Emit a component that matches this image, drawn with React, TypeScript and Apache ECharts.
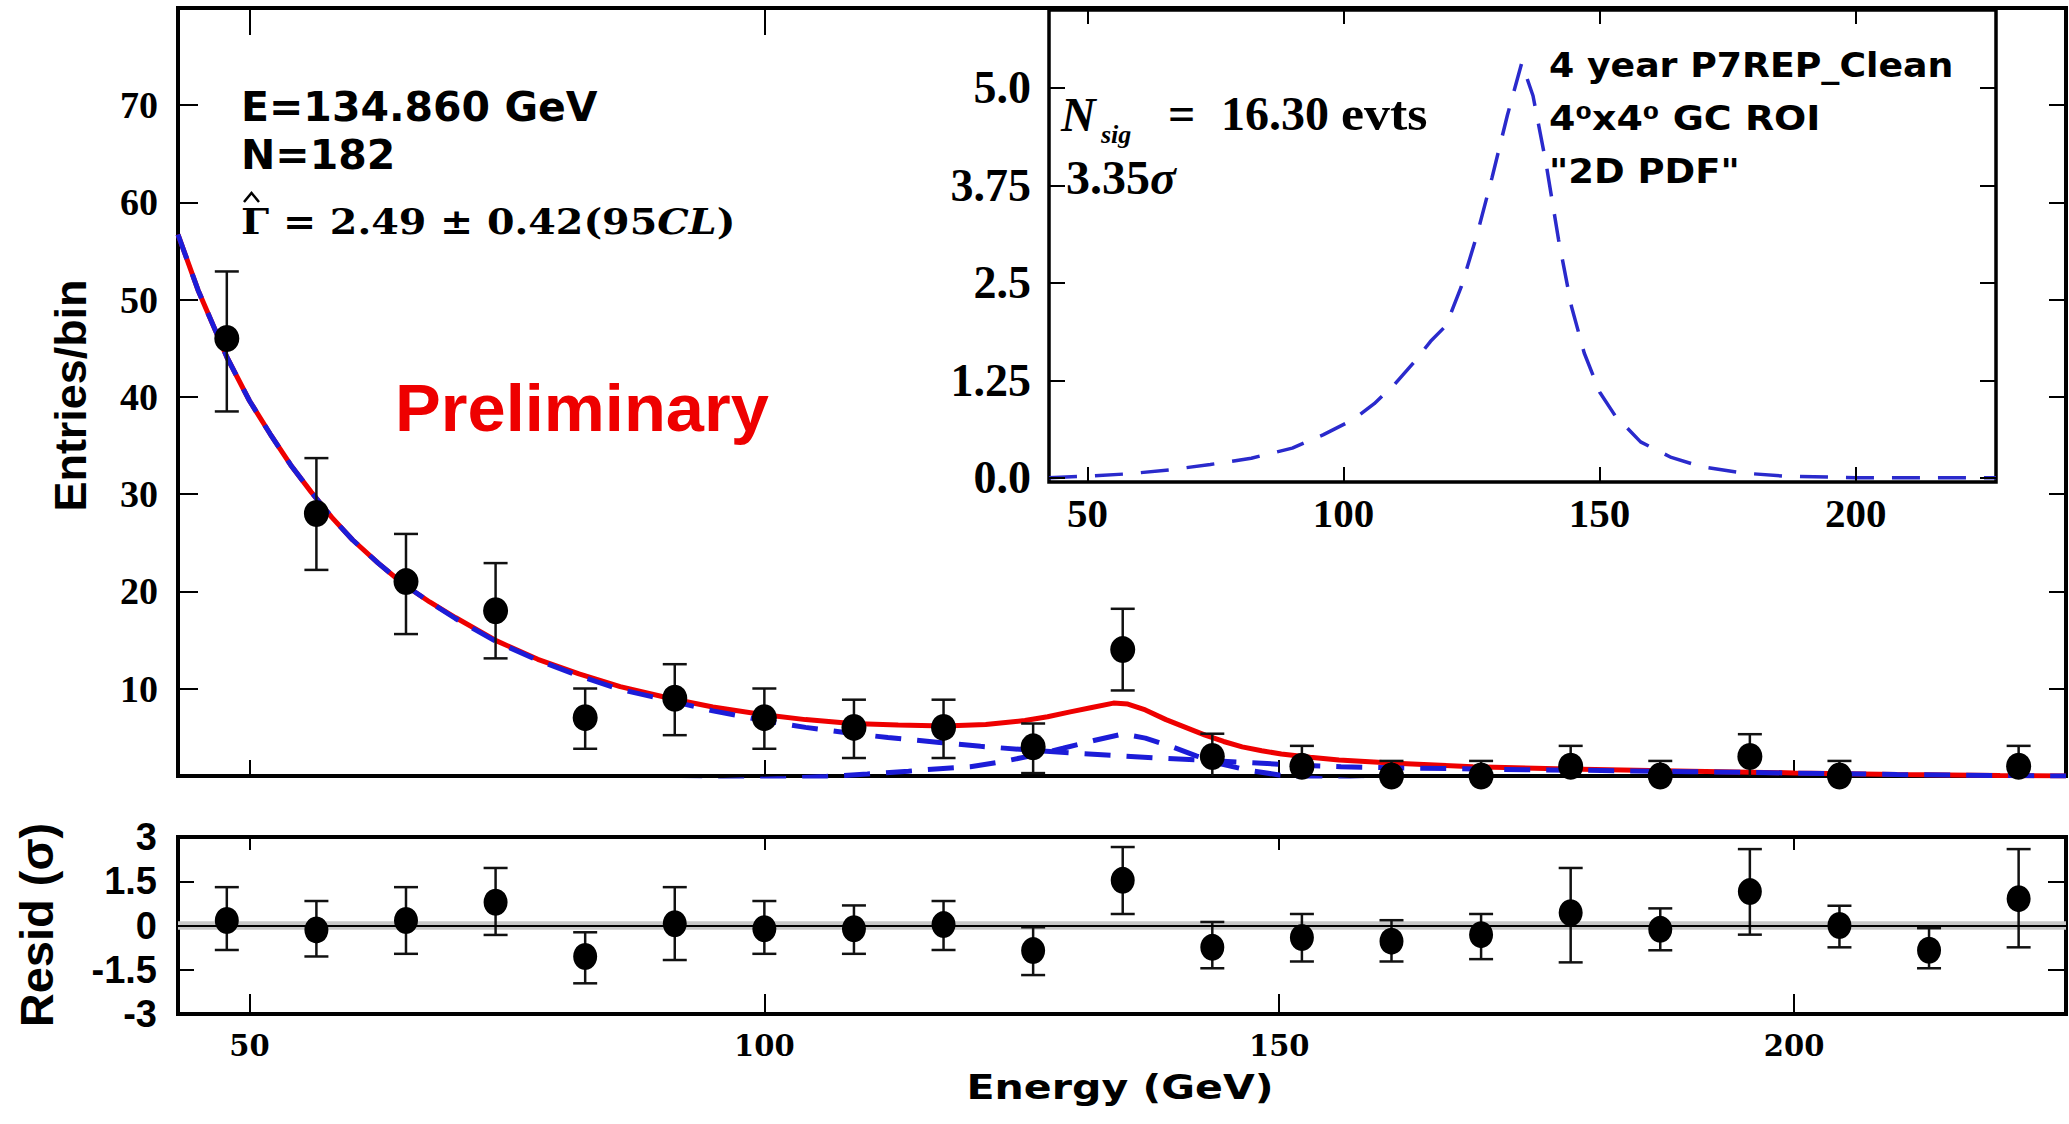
import React, { useEffect, useRef } from "react";
import * as echarts from "echarts";

const W = 2069;
const H = 1124;

// ---- binned data (energy bin centres, counts, error bar ends) ----
const energies = [47.8, 56.5, 65.2, 73.9, 82.6, 91.3, 100.0, 108.7, 117.4, 126.1, 134.8, 143.5, 152.2, 160.9, 169.6, 178.3, 187.0, 195.7, 204.4, 213.1, 221.8];
const counts = [46, 28, 21, 18, 7, 9, 7, 6, 6, 4, 14, 3, 2, 1, 1, 2, 1, 3, 1, 0, 2];
const countLow = [38.5, 22.2, 15.6, 13.1, 3.8, 5.2, 3.8, 2.85, 2.85, 1.3, 9.8, 0.9, 0.4, 0, 0, 0.4, 0, 0.9, 0, 0, 0.4];
const countHigh = [52.9, 33.7, 25.9, 22.9, 10.0, 12.5, 10.0, 8.85, 8.85, 6.4, 18.2, 5.35, 4.1, 2.55, 2.55, 4.1, 2.55, 5.3, 2.55, 0, 4.1];

// ---- residuals (sigma) ----
const resid = [0.17, -0.15, 0.17, 0.79, -1.05, 0.06, -0.11, -0.11, 0.03, -0.85, 1.53, -0.74, -0.41, -0.53, -0.31, 0.43, -0.13, 1.15, 0.0, -0.84, 0.91];
const residLow = [-0.83, -1.05, -0.96, -0.32, -1.96, -1.17, -0.96, -0.96, -0.83, -1.68, 0.39, -1.45, -1.22, -1.22, -1.14, -1.25, -0.84, -0.31, -0.74, -1.45, -0.74];
const residHigh = [1.30, 0.83, 1.30, 1.95, -0.23, 1.30, 0.83, 0.68, 0.83, -0.06, 2.66, 0.12, 0.39, 0.18, 0.39, 1.95, 0.58, 2.59, 0.67, -0.09, 2.59];

// ---- model curves ----
const totalEnergy = [43.06, 45, 47.8, 50, 52, 54, 56, 58, 60, 62.5, 65, 67.5, 70, 74, 78, 82, 86, 91, 95, 100, 104, 108.5, 113, 117.5, 121.5, 125.3, 127.5, 129.7, 131.8, 133.9, 135.3, 137, 139, 140.9, 142.8, 144.6, 146.4, 148.3, 150.2, 153, 155.8, 161.3, 168.8, 178, 190, 200, 210, 220, 226.4];
const totalValue = [56.7, 51.0, 44.1, 39.6, 36.2, 33.0, 30.2, 27.6, 25.3, 22.9, 20.7, 18.9, 17.3, 14.9, 13.0, 11.5, 10.2, 8.95, 8.1, 7.3, 6.8, 6.4, 6.25, 6.15, 6.3, 6.7, 7.1, 7.6, 8.05, 8.5, 8.4, 7.8, 6.8, 6.0, 5.2, 4.55, 4.0, 3.6, 3.26, 2.92, 2.65, 2.3, 1.96, 1.72, 1.5, 1.32, 1.16, 1.06, 1.0];

const bgEnergy = [43.06, 45, 47.8, 50, 52, 54, 56, 58, 60, 62.5, 65, 67.5, 70, 74, 78, 82, 86, 91, 95, 100, 104, 108, 112, 117, 121, 126, 130, 135, 139, 143, 147, 152, 156, 161, 170, 180, 190, 200, 210, 220, 226.4];
const bgValue = [56.7, 51.0, 44.1, 39.6, 36.2, 33.0, 30.2, 27.6, 25.3, 22.9, 20.7, 18.9, 17.2, 14.8, 12.9, 11.3, 9.9, 8.7, 7.7, 6.7, 6.0, 5.45, 4.95, 4.45, 4.05, 3.65, 3.35, 3.05, 2.8, 2.6, 2.38, 2.1, 1.95, 1.85, 1.7, 1.58, 1.45, 1.3, 1.15, 1.05, 1.0];

const sigEnergy = [42.5, 50, 58, 66, 74, 82, 90, 96, 102, 106, 110, 114, 117, 120, 123, 126, 129, 132, 134.8, 137, 139.5, 142, 144.5, 147, 150, 153, 158, 164, 170, 178, 186, 200, 227.4];
const sigValue = [0.0, 0.02, 0.05, 0.1, 0.17, 0.25, 0.38, 0.55, 0.75, 0.95, 1.2, 1.5, 1.75, 1.95, 2.45, 3.1, 3.85, 4.65, 5.32, 4.9, 4.05, 3.05, 2.2, 1.6, 1.1, 0.8, 0.46, 0.26, 0.14, 0.06, 0.02, 0.0, 0.0];

// ---- tick values / labels ----
const energyTicks = [50, 100, 150, 200];
const entryTicks = [10, 20, 30, 40, 50, 60, 70];
const insetTicks = [0, 1.25, 2.5, 3.75, 5.0];
const insetTickLabels = ["0.0", "1.25", "2.5", "3.75", "5.0"];

const RED = "#ee0000";
const BLUE = "#1c1cd8";

function zip(a: number[], b: number[]) {
  return a.map((v, i) => [v, b[i]]);
}

function errRender(capHalf: number, width: number) {
  return (params: any, api: any) => {
    const x = api.value(0);
    const lo = api.value(1);
    const hi = api.value(2);
    if (!(hi > lo)) return null;
    const a = api.coord([x, lo]);
    const b = api.coord([x, hi]);
    const style = { stroke: "#111", lineWidth: width };
    return {
      type: "group",
      children: [
        { type: "line", shape: { x1: a[0], y1: a[1], x2: b[0], y2: b[1] }, style },
        { type: "line", shape: { x1: b[0] - capHalf, y1: b[1], x2: b[0] + capHalf, y2: b[1] }, style },
        { type: "line", shape: { x1: a[0] - capHalf, y1: a[1], x2: a[0] + capHalf, y2: a[1] }, style },
      ],
    };
  };
}

function tickAxis(extra: any) {
  return {
    type: "value",
    axisLine: { show: false, onZero: false },
    splitLine: { show: false },
    axisLabel: { show: false },
    ...extra,
  };
}

function text(t: string, x: number, y: number, family: string, size: number, o: any = {}) {
  return {
    type: "text",
    x,
    y,
    z: 100,
    scaleX: o.scaleX ?? 1,
    scaleY: o.scaleY ?? 1,
    rotation: o.rotation ?? 0,
    silent: true,
    style: {
      text: t,
      x: 0,
      y: 0,
      fill: o.fill ?? "#000",
      fontFamily: family,
      fontSize: size,
      fontWeight: o.weight ?? "normal",
      fontStyle: o.style ?? "normal",
      align: o.align ?? "left",
      verticalAlign: "middle",
      rich: o.rich,
    },
  };
}

export default function App() {
  const ref = useRef<HTMLDivElement>(null);

  useEffect(() => {
    const chart = echarts.init(ref.current!, null, { renderer: "svg" });

    const xMin = 43.06;
    const xMax = 226.4;
    const insetXMin = 42.5;
    const insetXMax = 227.4;

    const serifLbl = (size: number, margin: number, family = "Liberation Serif") => ({
      show: true,
      color: "#000",
      fontFamily: family,
      fontWeight: "bold",
      fontSize: size,
      margin,
    });
    const tick = (len: number, values?: number[]) => ({
      show: true,
      inside: true,
      length: len,
      lineStyle: { color: "#000", width: 2 },
      ...(values ? { customValues: values } : {}),
    });

    const option: any = {
      animation: false,
      backgroundColor: "#fff",
      grid: [
        { left: 178, top: 8, width: 1888, height: 768, show: true, borderColor: "#000", borderWidth: 4, backgroundColor: "transparent", z: 0 },
        { left: 178, top: 837, width: 1888, height: 177, show: true, borderColor: "#000", borderWidth: 4, backgroundColor: "transparent", z: 0 },
        { left: 1049, top: 10, width: 947, height: 472, show: true, borderColor: "#000", borderWidth: 3.5, backgroundColor: "#fff", z: 10 },
      ],
      xAxis: [
        tickAxis({ gridIndex: 0, min: xMin, max: xMax, position: "bottom", axisTick: tick(16, energyTicks) }),
        tickAxis({ gridIndex: 0, min: xMin, max: xMax, position: "top", axisTick: tick(27, energyTicks) }),
        tickAxis({ gridIndex: 1, min: xMin, max: xMax, position: "bottom", axisTick: tick(20, energyTicks),
          axisLabel: { ...serifLbl(29, 17, "DejaVu Serif"), customValues: energyTicks } }),
        tickAxis({ gridIndex: 1, min: xMin, max: xMax, position: "top", axisTick: tick(13, energyTicks) }),
        tickAxis({ gridIndex: 2, min: insetXMin, max: insetXMax, position: "bottom", z: 12, axisTick: tick(15, energyTicks),
          axisLabel: { ...serifLbl(41, 10), customValues: energyTicks } }),
        tickAxis({ gridIndex: 2, min: insetXMin, max: insetXMax, position: "top", z: 12, axisTick: tick(14, energyTicks) }),
      ],
      yAxis: [
        tickAxis({ gridIndex: 0, min: 1, max: 80, position: "left", axisTick: tick(20, entryTicks),
          axisLabel: { ...serifLbl(38, 20), customValues: entryTicks } }),
        tickAxis({ gridIndex: 0, min: 1, max: 80, position: "right", axisTick: tick(17, entryTicks) }),
        tickAxis({ gridIndex: 1, min: -3, max: 3, interval: 1.5, position: "left", axisTick: tick(16),
          axisLabel: { show: true, color: "#000", fontFamily: "Liberation Sans", fontWeight: "bold", fontSize: 38, margin: 21 } }),
        tickAxis({ gridIndex: 1, min: -3, max: 3, interval: 1.5, position: "right", axisTick: tick(18) }),
        tickAxis({ gridIndex: 2, min: -0.055, max: 6.0, position: "left", z: 12, axisTick: tick(16, insetTicks),
          axisLabel: { ...serifLbl(46, 18), customValues: insetTicks,
            formatter: (v: number) => { const i = insetTicks.indexOf(v); return i >= 0 ? insetTickLabels[i] : ""; } } }),
        tickAxis({ gridIndex: 2, min: -0.055, max: 6.0, position: "right", z: 12, axisTick: tick(16, insetTicks) }),
      ],
      series: [
        // main panel
        { type: "line", xAxisIndex: 0, yAxisIndex: 0, data: zip(totalEnergy, totalValue), showSymbol: false, smooth: false,
          lineStyle: { color: RED, width: 5 }, z: 2, clip: true, silent: true },
        { type: "line", xAxisIndex: 0, yAxisIndex: 0, data: zip(bgEnergy, bgValue), showSymbol: false, smooth: false,
          lineStyle: { color: BLUE, width: 5, type: [26, 16] }, z: 3, clip: true, silent: true },
        { type: "line", xAxisIndex: 0, yAxisIndex: 0, data: zip(sigEnergy, sigValue), showSymbol: false, smooth: false,
          lineStyle: { color: BLUE, width: 5, type: [26, 16] }, z: 3, clip: true, silent: true },
        { type: "custom", xAxisIndex: 0, yAxisIndex: 0, renderItem: errRender(12, 2.5), clip: true, z: 4, silent: true,
          encode: { x: 0, y: [1, 2] },
          data: energies.map((e, i) => [e, countLow[i], countHigh[i]]) },
        { type: "scatter", xAxisIndex: 0, yAxisIndex: 0, data: zip(energies, counts), symbol: "circle", symbolSize: [25, 27],
          itemStyle: { color: "#000", opacity: 1 }, z: 5, clip: true, silent: true },
        // residual panel
        { type: "line", xAxisIndex: 2, yAxisIndex: 2, data: [], z: 1, silent: true,
          markArea: { silent: true, itemStyle: { color: "#c8c8c8" }, data: [[{ yAxis: -0.14 }, { yAxis: 0.14 }]] },
          markLine: { silent: true, symbol: ["none", "none"], label: { show: false }, lineStyle: { color: "#000", width: 2, type: "solid" }, data: [{ yAxis: 0 }] } },
        { type: "custom", xAxisIndex: 2, yAxisIndex: 2, renderItem: errRender(12, 2.5), clip: true, z: 4, silent: true,
          encode: { x: 0, y: [1, 2] },
          data: energies.map((e, i) => [e, residLow[i], residHigh[i]]) },
        { type: "scatter", xAxisIndex: 2, yAxisIndex: 2, data: zip(energies, resid), symbol: "circle", symbolSize: [24, 27],
          itemStyle: { color: "#000", opacity: 1 }, z: 5, clip: true, silent: true },
        // inset
        { type: "line", xAxisIndex: 4, yAxisIndex: 4, data: zip(sigEnergy, sigValue), showSymbol: false, smooth: false,
          lineStyle: { color: "#2a2acc", width: 3.5, type: [28, 18] }, z: 11, clip: true, silent: true },
      ],
      graphic: [
        text("E=134.860 GeV", 241, 107, "DejaVu Sans", 41, { weight: "bold" }),
        text("N=182", 241, 154.5, "DejaVu Sans", 41, { weight: "bold" }),
        {
          type: "polyline",
          z: 100,
          silent: true,
          shape: { points: [[244, 202], [251.5, 193], [259, 202]] },
          style: { stroke: "#000", lineWidth: 2.5, fill: "none" },
        },
        text("{a|Γ = 2.49 ± 0.42(95}{b|CL}{a|)}", 241, 221.5, "DejaVu Serif", 36, {
          scaleX: 1.1,
          rich: {
            a: { fontFamily: "DejaVu Serif", fontSize: 36, fontWeight: "bold", fill: "#000" },
            b: { fontFamily: "DejaVu Serif", fontSize: 36, fontWeight: "bold", fontStyle: "italic", fill: "#000" },
          },
        }),
        text("Preliminary", 395, 407.5, "Liberation Sans", 66, { weight: "bold", fill: RED, scaleX: 1.04 }),
        text("Entries/bin", 71, 395.5, "Liberation Sans", 44, { weight: "bold", rotation: Math.PI / 2, align: "center", scaleX: 1.02 }),
        text("Resid (σ)", 36, 925, "Liberation Sans", 47, { weight: "bold", rotation: Math.PI / 2, align: "center" }),
        text("Energy (GeV)", 1120, 1087.5, "DejaVu Sans", 34, { weight: "bold", align: "center", scaleX: 1.21 }),
        // inset annotations
        text("N", 1061, 114.5, "Liberation Serif", 48, { style: "italic", weight: "bold" }),
        text("sig", 1101, 134, "Liberation Serif", 26, { style: "italic", weight: "bold" }),
        text("=", 1168, 113.3, "Liberation Serif", 48, { weight: "bold" }),
        text("16.30", 1221, 113.3, "Liberation Serif", 48, { weight: "bold" }),
        text("evts", 1341, 113.3, "Liberation Serif", 48, { weight: "bold", scaleX: 1.08 }),
        text("{a|3.35}{b|σ}", 1066, 177, "Liberation Serif", 48, {
          rich: {
            a: { fontFamily: "Liberation Serif", fontSize: 48, fontWeight: "bold", fill: "#000" },
            b: { fontFamily: "Liberation Serif", fontSize: 48, fontWeight: "bold", fontStyle: "italic", fill: "#000" },
          },
        }),
        text("4 year P7REP_Clean", 1549, 65.5, "DejaVu Sans", 33, { weight: "bold", scaleX: 1.1 }),
        text("4⁰x4⁰ GC ROI", 1549, 118.4, "DejaVu Sans", 33, { weight: "bold", scaleX: 1.15 }),
        text('"2D PDF"', 1549, 171.5, "DejaVu Sans", 33, { weight: "bold", scaleX: 1.12 }),
      ],
    };

    chart.setOption(option);
    return () => chart.dispose();
  }, []);

  return (
    <div
      ref={ref}
      style={{ position: "absolute", left: 0, top: 0, width: W, height: H, background: "#fff" }}
    />
  );
}
